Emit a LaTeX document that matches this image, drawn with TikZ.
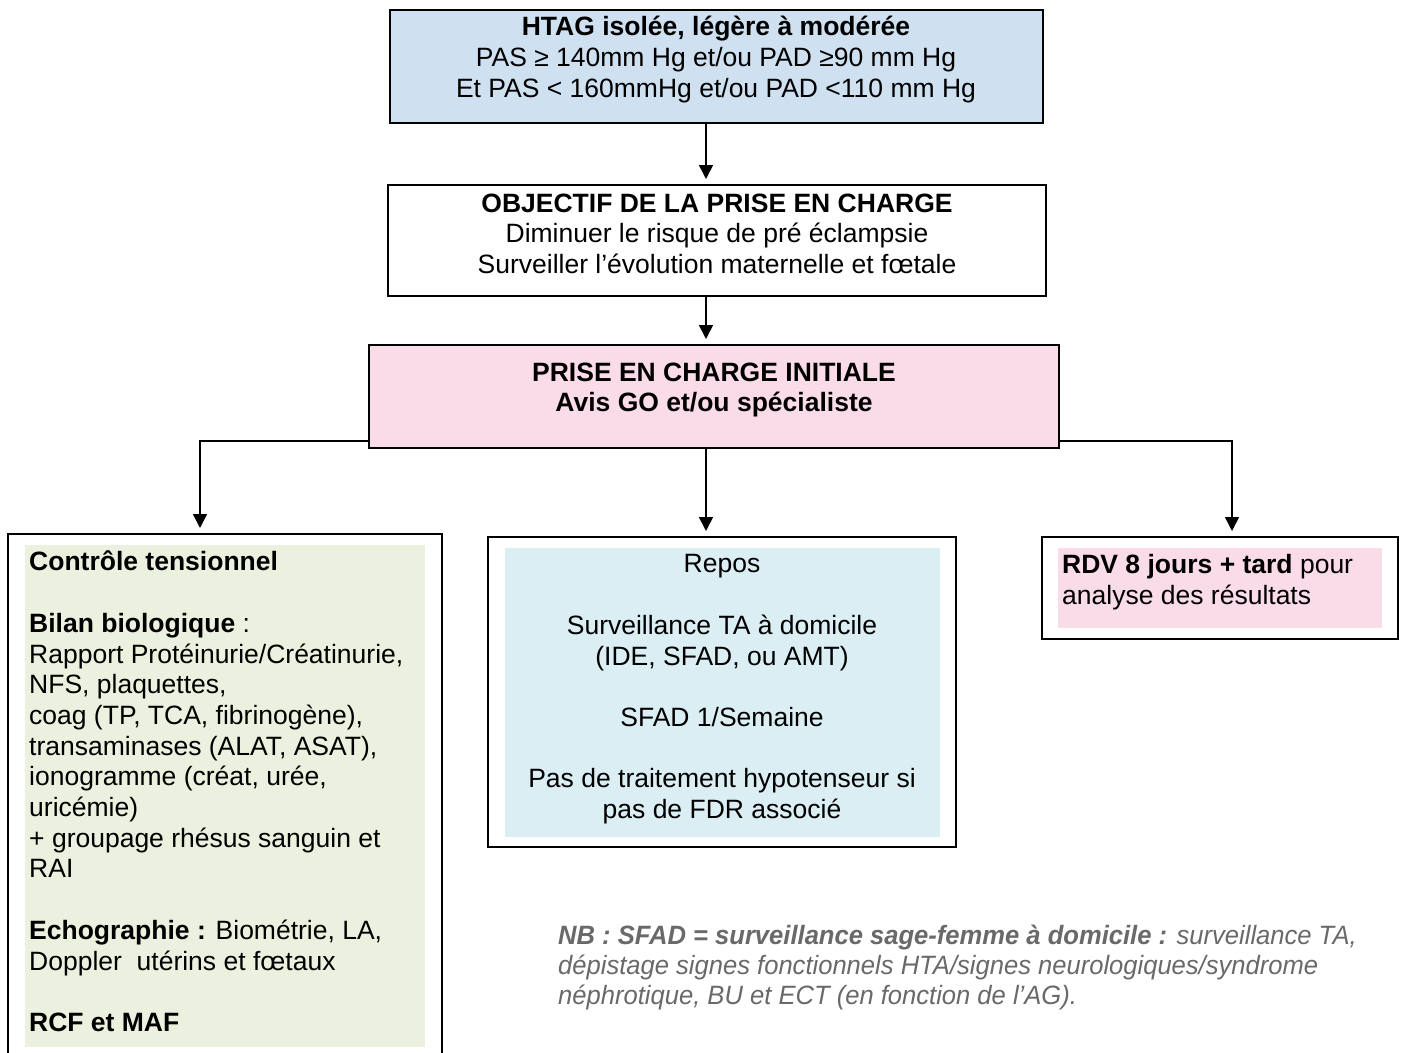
\documentclass[tikz,border=0pt]{standalone}
\usepackage{fontspec}
\setmainfont{Liberation Sans}
\newfontfamily\nbfont[FakeStretch=0.965]{Liberation Sans}
\usetikzlibrary{arrows.meta}
\definecolor{bluehead}{RGB}{207,224,241}
\definecolor{pinkbox}{RGB}{250,220,232}
\definecolor{greenbox}{RGB}{235,241,222}
\definecolor{bluebox}{RGB}{219,238,244}
\definecolor{nbgray}{RGB}{105,105,105}
\begin{document}
\begin{tikzpicture}[x=1pt,y=-1pt,
  box/.style={draw=black,line width=2pt,inner sep=0pt,outer sep=0pt},
  fillbox/.style={inner sep=0pt,outer sep=0pt},
  txt/.style={inner sep=0pt,font=\fontsize{26.5}{30.7}\selectfont},
  arr/.style={line width=1.6pt,shorten >=6pt,-{Triangle[width=14pt,length=14pt]}}]
\useasboundingbox (0,0) rectangle (1405,1052);
\clip (0,0) rectangle (1405,1052);
\fill[white] (0,0) rectangle (1405,1052);

% top boxes
\node[box,fill=bluehead,minimum width=653,minimum height=113] (b1) at (716.5,66.5) {};
\node[box,fill=white,minimum width=658,minimum height=111] (b2) at (717,240.5) {};
\node[box,fill=pinkbox,minimum width=690,minimum height=103] (b3) at (714,396.5) {};

% bottom boxes
\node[box,fill=white,minimum width=434,minimum height=536] (L) at (225,802) {};
\node[fillbox,fill=greenbox,minimum width=400,minimum height=502] (Lin) at (225,796) {};
\node[box,fill=white,minimum width=468,minimum height=310] (M) at (722,692) {};
\node[fillbox,fill=bluebox,minimum width=435,minimum height=289] (Min) at (722.5,692.5) {};
\node[box,fill=white,minimum width=356,minimum height=102] (R) at (1220,588) {};
\node[fillbox,fill=pinkbox,minimum width=324,minimum height=80] (Rin) at (1220,588) {};

% texts
\node[txt,align=center,anchor=north] (t1) at (716,16)
  {\bfseries HTAG isolée, légère à modérée\\PAS ≥ 140mm Hg et/ou PAD ≥90 mm Hg\\Et PAS < 160mmHg et/ou PAD <110 mm Hg};
\node[txt,align=center,anchor=north] (t2) at (717,193.5)
  {\bfseries OBJECTIF DE LA PRISE EN CHARGE\\Diminuer le risque de pré éclampsie\\Surveiller l’évolution maternelle et fœtale};
\node[txt,align=center,anchor=north] (t3) at (714,362.5)
  {\bfseries PRISE EN CHARGE INITIALE\\\bfseries Avis GO et/ou spécialiste};

\node[txt,align=left,anchor=north west] (tl) at (29,551)
  {\textbf{Contrôle tensionnel}\\[30.7pt]
   \textbf{Bilan biologique} :\\
   Rapport Protéinurie/Créatinurie,\\
   NFS, plaquettes,\\
   coag (TP, TCA, fibrinogène),\\
   transaminases (ALAT, ASAT),\\
   ionogramme (créat, urée,\\
   uricémie)\\
   + groupage rhésus sanguin et\\
   RAI\\[30.7pt]
   \textbf{Echographie :} Biométrie, LA,\\
   Doppler\ \ utérins et fœtaux\\[30.7pt]
   \textbf{RCF et MAF}};

\node[txt,align=center,anchor=north] (tm) at (722,554.5)
  {Repos\\[30.7pt]
   Surveillance TA à domicile\\
   (IDE, SFAD, ou AMT)\\[30.7pt]
   SFAD 1/Semaine\\[30.7pt]
   Pas de traitement hypotenseur si\\
   pas de FDR associé};

\node[txt,align=left,anchor=north west] (tr) at (1062,554.5)
  {\textbf{RDV 8 jours + tard} pour\\analyse des résultats};

\node[inner sep=0pt,align=left,anchor=north west,text=nbgray,
      font=\nbfont\itshape\fontsize{26.5}{30}\selectfont] (nb) at (558,925)
  {\textbf{NB : SFAD = surveillance sage-femme à domicile :} surveillance TA,\\
   dépistage signes fonctionnels HTA/signes neurologiques/syndrome\\
   néphrotique, BU et ECT (en fonction de l’AG).};

% connectors
\draw[arr] (b1.south -| 706,0) -- (b2.north -| 706,0);
\draw[arr] (b2.south -| 706,0) -- (b3.north -| 706,0);
\draw[arr] (b3.south -| 706,0) -- (M.north -| 706,0);
\draw[arr] (b3.west |- 0,441) -| (L.north -| 200,0);
\draw[arr] (b3.east |- 0,441) -| (R.north -| 1232,0);
\end{tikzpicture}
\end{document}
